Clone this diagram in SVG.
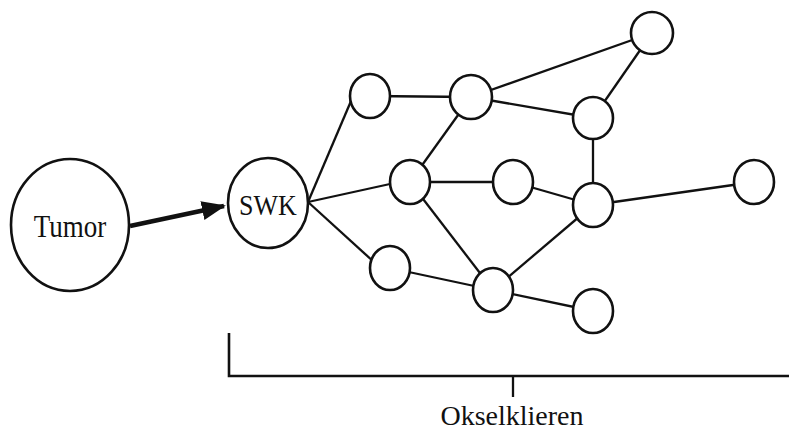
<svg xmlns="http://www.w3.org/2000/svg" width="789" height="431" viewBox="0 0 789 431">
  <style>
    .node { fill: #fff; stroke: #111; stroke-width: 2.6; }
    .edge { stroke: #111; stroke-width: 2.3; fill: none; }
    .label { font-family: "Liberation Serif", "Times New Roman", serif; fill: #111; text-anchor: middle; }
  </style>
  <defs>
    <marker id="arrowhead" markerWidth="5" markerHeight="4" refX="4.6" refY="2" orient="auto" markerUnits="strokeWidth">
      <path d="M0,0 L5,2 L0,4 Z" fill="#111"/>
    </marker>
  </defs>
  <rect width="789" height="431" fill="#fff"/>

  <!-- connectors -->
  <g id="connectors">
    <line class="edge" x1="130" y1="226" x2="224" y2="206" style="stroke-width:4.8" marker-end="url(#arrowhead)"/>
    <line class="edge" x1="308" y1="202" x2="354" y2="94"/>
    <line class="edge" x1="308" y1="202" x2="390" y2="184"/>
    <line class="edge" x1="308" y1="202" x2="375" y2="263"/>
    <line class="edge" x1="370" y1="96" x2="471" y2="97"/>
    <line class="edge" x1="471" y1="97" x2="652" y2="33"/>
    <line class="edge" x1="471" y1="97" x2="593" y2="118"/>
    <line class="edge" x1="471" y1="97" x2="410" y2="182"/>
    <line class="edge" x1="652" y1="33" x2="593" y2="118"/>
    <line class="edge" x1="593" y1="118" x2="593" y2="205"/>
    <line class="edge" x1="410" y1="182" x2="513" y2="182"/>
    <line class="edge" x1="410" y1="182" x2="493" y2="290"/>
    <line class="edge" x1="513" y1="182" x2="593" y2="205"/>
    <line class="edge" x1="593" y1="205" x2="754" y2="182"/>
    <line class="edge" x1="593" y1="205" x2="493" y2="290"/>
    <line class="edge" x1="390" y1="268" x2="493" y2="290"/>
    <line class="edge" x1="493" y1="290" x2="593" y2="311"/>
  </g>

  <!-- primary tumour and sentinel node -->
  <g id="tumor">
    <ellipse class="node" cx="70" cy="225" rx="59" ry="66"/>
    <text class="label" x="70" y="237" font-size="27" transform="translate(70 237) scale(1 1.2) translate(-70 -237)">Tumor</text>
  </g>
  <g id="swk">
    <ellipse class="node" cx="268" cy="203" rx="40" ry="45"/>
    <text class="label" x="268" y="215" font-size="26" transform="translate(268 215) scale(1 1.15) translate(-268 -215)">SWK</text>
  </g>

  <!-- axillary lymph nodes -->
  <g id="n1"><ellipse class="node" cx="370" cy="96" rx="20" ry="22"/></g>
  <g id="n2"><ellipse class="node" cx="471" cy="97" rx="21" ry="22"/></g>
  <g id="n3"><ellipse class="node" cx="652" cy="33" rx="21" ry="21"/></g>
  <g id="n4"><ellipse class="node" cx="593" cy="118" rx="20" ry="21"/></g>
  <g id="n5"><ellipse class="node" cx="410" cy="182" rx="20" ry="22"/></g>
  <g id="n6"><ellipse class="node" cx="513" cy="182" rx="20" ry="22"/></g>
  <g id="n7"><ellipse class="node" cx="593" cy="205" rx="20" ry="22"/></g>
  <g id="n8"><ellipse class="node" cx="754" cy="182" rx="20" ry="22"/></g>
  <g id="n9"><ellipse class="node" cx="390" cy="268" rx="20" ry="22"/></g>
  <g id="n10"><ellipse class="node" cx="493" cy="290" rx="20" ry="22"/></g>
  <g id="n11"><ellipse class="node" cx="593" cy="311" rx="20" ry="22"/></g>

  <!-- bracket for the axillary group -->
  <g id="bracket">
    <path class="edge" d="M229,333 L229,376 L789,376" style="stroke-width:2.6"/>
    <line class="edge" x1="513" y1="376" x2="513" y2="397"/>
    <text class="label" x="512" y="425" font-size="28">Okselklieren</text>
  </g>
</svg>
